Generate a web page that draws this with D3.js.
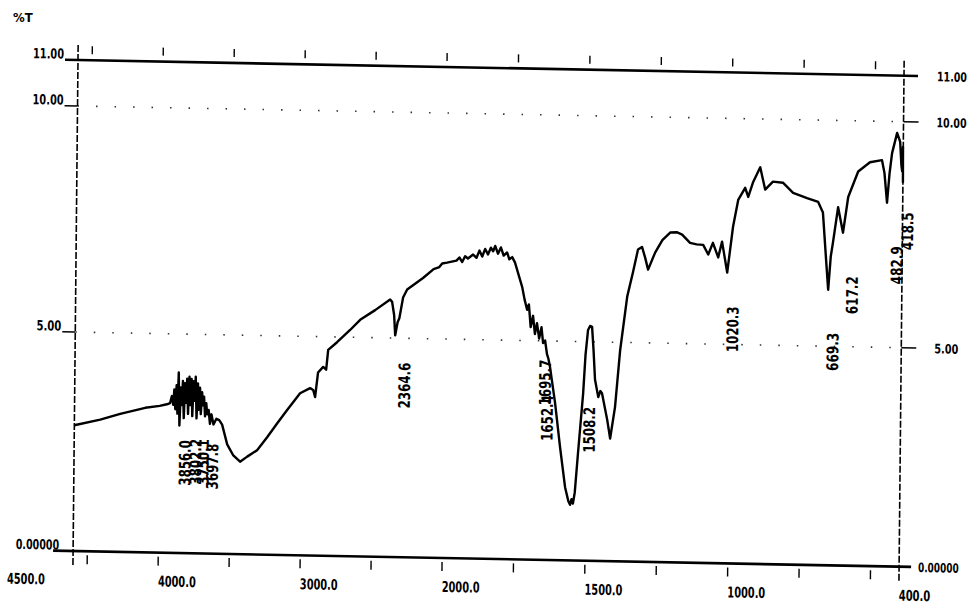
<!DOCTYPE html>
<html lang="en">
<head>
<meta charset="utf-8">
<title>%T spectrum</title>
<script src="https://d3js.org/d3.v7.min.js"></script>
<style>
  body { margin: 0; background: #fff; }
  text { font-family: "Liberation Sans Narrow", "DejaVu Sans Condensed", sans-serif; font-weight: bold; fill: #000; }
</style>
</head>
<body>
<script>
// spectrum (cm-1, %T)
const wavenumber = [
  4600, 4418, 4278, 4102, 4000, 3950, 3927,
  3915, 3905, 3898, 3890, 3882, 3875, 3868, 3860, 3852, 3845, 3838, 3830, 3822, 3815,
  3808, 3800, 3792, 3785, 3777, 3770, 3762, 3755, 3748, 3740, 3732, 3725, 3717, 3710,
  3702, 3695, 3688, 3680, 3672, 3665, 3655, 3645, 3635, 3620, 3600, 3580,
  3559, 3522, 3480, 3430, 3380, 3311, 3241, 3172, 3102, 3012, 2942, 2920, 2906, 2887,
  2851, 2830, 2817, 2755, 2664, 2594, 2489, 2384, 2370, 2355, 2346, 2330, 2318, 2293,
  2265, 2154, 2080, 2040, 2020, 1993,
  1960, 1950, 1940, 1930, 1920, 1902, 1890, 1880, 1870, 1860, 1850, 1840, 1832, 1825,
  1815, 1805, 1795, 1783, 1775, 1765, 1755,
  1729, 1720, 1711, 1705, 1698, 1690, 1683, 1676, 1668, 1660, 1654, 1647, 1640, 1635,
  1629, 1610, 1591, 1572, 1560, 1554, 1549, 1544, 1538, 1528, 1512, 1505, 1497, 1490,
  1483, 1477, 1471, 1459, 1452, 1446, 1427, 1416, 1400, 1384, 1361, 1342, 1325, 1311,
  1300, 1289, 1265, 1240, 1213, 1190, 1171, 1143, 1120, 1097, 1079, 1063, 1044, 1031,
  1012, 993, 976, 952, 941, 925, 900, 882, 855, 820, 784, 735, 696, 679, 666, 658,
  650, 643, 626, 608, 591, 557, 516, 474, 465, 455, 447, 439, 422, 411, 406, 403, 401, 400
];
const transmittance = [
  2.87, 3.01, 3.15, 3.30, 3.35, 3.39, 3.42,
  3.58, 3.38, 3.73, 3.28, 3.83, 3.18, 4.12, 2.91, 3.78, 3.38, 3.93, 3.08, 3.88, 3.43,
  3.98, 3.18, 4.03, 3.38, 3.98, 3.13, 3.93, 3.48, 4.03, 3.08, 3.88, 3.28, 3.78, 3.18,
  3.68, 3.38, 3.58, 3.13, 3.43, 3.18, 3.28, 2.96, 3.18, 2.95, 3.08, 3.05,
  2.95, 2.50, 2.26, 2.11, 2.23, 2.38, 2.68, 3.00, 3.31, 3.70, 3.82, 3.78, 3.62, 4.18,
  4.31, 4.25, 4.70, 4.88, 5.16, 5.39, 5.61, 5.85, 5.80, 5.51, 5.06, 5.35, 5.44, 5.90,
  6.08, 6.34, 6.54, 6.59, 6.67, 6.69,
  6.74, 6.81, 6.71, 6.84, 6.79, 6.88, 6.81, 6.97, 6.84, 7.01, 6.89, 7.04, 6.96, 7.08,
  6.91, 7.05, 6.87, 6.94, 6.79, 6.84, 6.72,
  6.18, 5.90, 5.68, 5.80, 5.30, 5.55, 5.15, 5.39, 5.05, 5.30, 4.95, 5.01, 4.70, 4.60,
  4.41, 3.59, 2.58, 1.67, 1.35, 1.27, 1.40, 1.30, 1.55, 2.45, 3.82, 4.70, 5.26, 5.35,
  5.33, 4.80, 4.14, 3.74, 3.88, 3.83, 3.23, 2.80, 3.52, 4.82, 6.02, 6.55, 7.06, 7.12,
  6.89, 6.62, 7.00, 7.28, 7.45, 7.46, 7.41, 7.23, 7.20, 7.19, 6.98, 7.24, 6.92, 7.27,
  6.59, 7.61, 8.20, 8.47, 8.27, 8.59, 8.93, 8.44, 8.62, 8.60, 8.38, 8.27, 8.19, 7.96, 6.89, 6.25,
  6.99, 7.29, 8.08, 7.52, 8.31, 8.88, 9.09, 9.14, 8.86, 8.20, 8.86, 9.30, 9.75, 9.55, 9.04, 8.90, 9.44, 8.65
];

const xTickValues = [4500, 4000, 3500, 3000, 2500, 2000, 1750, 1500, 1250, 1000, 750, 500];
const xLabelValues = [4500, 4000, 3000, 2000, 1500, 1000, 400];
const xLabelText = ["4500.0", "4000.0", "3000.0", "2000.0", "1500.0", "1000.0", "400.0"];
const yTickValues = [11, 10, 5, 0];
const yLabelText = ["11.00", "10.00", "5.00", "0.00000"];
const yGridValues = [10, 5];

const peakLabels = ["3856.0", "3802.2", "3750.1", "3697.8", "2364.6", "1695.7", "1652.4",
                    "1508.2", "1020.3", "669.3", "617.2", "482.9", "418.5"];
// layout for the peak labels: [shift in px, top of the text in %T]
const peakLayout = [[11, 2.58], [14, 2.61], [14, 2.61], [16, 2.51], [18, 4.44], [20, 4.57], [10, 3.76],
                    [11, 3.51], [14, 5.84], [14, 5.30], [18, 6.56], [24, 7.24], [16, 8.00]];

const W = 826;

const svg = d3.select("body").append("svg")
    .attr("width", 973).attr("height", 605);

svg.append("text").attr("x", 13).attr("y", 22)
    .style("font-size", "13px").text("%T");

// the scan is slightly skewed, so the whole plot is too
const g = svg.append("g")
    .attr("transform", "translate(78,60) matrix(1,0.019,-0.010,1,0,0)");

// 4000-2000 is drawn at half the scale of 2000-400; the printed %T axis is not quite even
const x = d3.scaleLinear().domain([4600, 2000, 400]).range([0, 369, W]);
const y = d3.scaleLinear().domain([0, 5, 10, 11]).range([491, 272, 46, 0]);

// dotted grid
g.selectAll(".grid").data(yGridValues).enter().append("line")
    .attr("x1", 0).attr("x2", W)
    .attr("y1", d => y(d)).attr("y2", d => y(d))
    .attr("stroke", "#333").attr("stroke-width", 1.6)
    .attr("stroke-dasharray", "1.5,17");

// frame
g.append("line").attr("x1", -13).attr("x2", W + 14).attr("y1", y(11)).attr("y2", y(11))
    .attr("stroke", "#000").attr("stroke-width", 2.6);
g.append("line").attr("x1", -20).attr("x2", W + 12).attr("y1", y(0)).attr("y2", y(0))
    .attr("stroke", "#000").attr("stroke-width", 2.6);
[0, W].forEach(px => {
  g.append("line").attr("x1", px).attr("x2", px)
      .attr("y1", y(11) - 15).attr("y2", y(0) + 14)
      .attr("stroke", "#000").attr("stroke-width", 1.6)
      .attr("stroke-dasharray", "7,2");
});

// y ticks and labels
g.selectAll(".ltick").data(yGridValues).enter().append("line")
    .attr("x1", -13).attr("x2", 0).attr("y1", d => y(d)).attr("y2", d => y(d))
    .attr("stroke", "#000").attr("stroke-width", 1.6);
g.selectAll(".rtick").data(yGridValues).enter().append("line")
    .attr("x1", W).attr("x2", W + 15).attr("y1", d => y(d)).attr("y2", d => y(d))
    .attr("stroke", "#000").attr("stroke-width", 1.6);

g.selectAll(".ylab").data(yTickValues).enter().append("text")
    .attr("x", -14).attr("y", d => y(d) - 1)
    .attr("text-anchor", "end")
    .attr("textLength", (d, i) => yLabelText[i].length * 6.2)
    .attr("lengthAdjust", "spacingAndGlyphs")
    .style("font-size", "14px")
    .text((d, i) => yLabelText[i]);
g.selectAll(".yrlab").data(yTickValues).enter().append("text")
    .attr("x", d => d === 0 ? W + 19 : W + 33).attr("y", d => y(d) + 5)
    .attr("textLength", (d, i) => yLabelText[i].length * (d === 0 ? 5.8 : 6.0))
    .attr("lengthAdjust", "spacingAndGlyphs")
    .style("font-size", "13px")
    .text((d, i) => yLabelText[i]);

// x ticks, top and bottom
g.selectAll(".xtick").data(xTickValues).enter().append("line")
    .attr("x1", d => x(d)).attr("x2", d => x(d))
    .attr("y1", y(0) + 4).attr("y2", y(0) + 13)
    .attr("stroke", "#000").attr("stroke-width", 1.4);
g.selectAll(".xttick").data(xTickValues).enter().append("line")
    .attr("x1", d => x(d)).attr("x2", d => x(d))
    .attr("y1", y(11) - 14).attr("y2", y(11) - 6)
    .attr("stroke", "#000").attr("stroke-width", 1.4);

g.selectAll(".xlab").data(xLabelValues).enter().append("text")
    .attr("x", (d, i) => i === 0 ? x(4600) - 28 : x(d))
    .attr("y", y(0) + 34)
    .attr("text-anchor", (d, i) => i === 0 ? "end" : "start")
    .attr("textLength", (d, i) => xLabelText[i].length * 6.3)
    .attr("lengthAdjust", "spacingAndGlyphs")
    .style("font-size", "15px")
    .text((d, i) => xLabelText[i]);

// spectrum
const pts = wavenumber.map((w, i) => [w, transmittance[i]]);
g.append("path").datum(pts)
    .attr("fill", "none").attr("stroke", "#000").attr("stroke-width", 2.4)
    .attr("stroke-linejoin", "round")
    .attr("d", d3.line().x(d => x(d[0])).y(d => y(d[1])));

// peak labels, written upwards
g.selectAll(".peak").data(peakLabels).enter().append("text")
    .attr("transform", (d, i) =>
        `translate(${x(+d) + peakLayout[i][0]},${y(peakLayout[i][1])}) rotate(-90)`)
    .attr("text-anchor", "end")
    .attr("textLength", d => d.length * 7.6)
    .attr("lengthAdjust", "spacingAndGlyphs")
    .style("font-size", "16px")
    .text(d => d);
</script>
</body>
</html>
